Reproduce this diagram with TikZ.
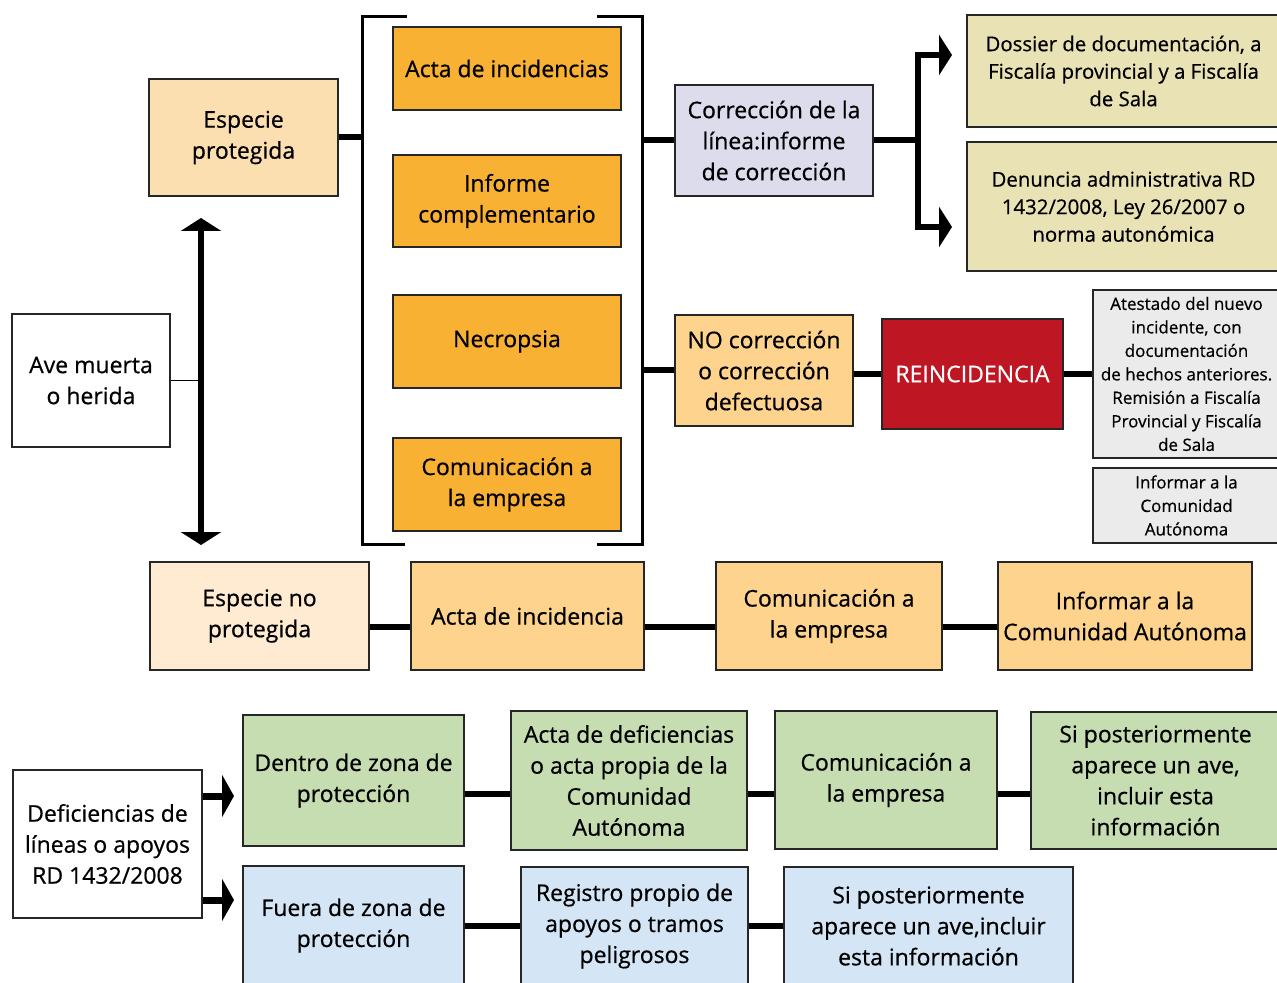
\documentclass[tikz,border=0pt]{standalone}
\usepackage{fontspec}
\setmainfont{Open Sans}[FakeBold=0.6]
\usetikzlibrary{arrows.meta}
\definecolor{espcol}{HTML}{FCDFB0}
\definecolor{naranja}{HTML}{F8B133}
\definecolor{lavanda}{HTML}{DCDCEC}
\definecolor{caqui}{HTML}{E9E2B4}
\definecolor{melocoton}{HTML}{FDD38D}
\definecolor{rojo}{HTML}{BE1622}
\definecolor{gris}{HTML}{EBEBEB}
\definecolor{crema}{HTML}{FEEBD1}
\definecolor{verde}{HTML}{C5DDB0}
\definecolor{azul}{HTML}{D4E5F5}

\begin{document}
\begin{tikzpicture}[
x=0.5pt, y=-0.5pt,
cell/.style={
	draw=black!85, line width=0.7pt,
	align=center, inner sep=1pt, text=black,
	font=\fontsize{11.5}{15.5}\selectfont
},
mid/.style={font=\fontsize{10.2}{13.75}\selectfont},
small/.style={font=\fontsize{8.5}{11.75}\selectfont},
bar/.style={line width=3pt},
bigarrow/.style={line width=3pt, -{Triangle[width=20pt,length=6.5pt]}}
]
\useasboundingbox (0,0) rectangle (1277,983);
\node[cell, fill=espcol, minimum width=94.5pt, minimum height=58.5pt] (espprot) at (243.5,137.5) {Especie\\protegida};
\node[cell, fill=white, minimum width=79pt, minimum height=66.5pt] (ave) at (91,380.5) {Ave muerta\\o herida};
\node[cell, fill=naranja, minimum width=114pt, minimum height=41.5pt] (acta1) at (507,68.5) {Acta de incidencias};
\node[cell, fill=naranja, minimum width=114pt, minimum height=46pt] (informe) at (507,201) {Informe\\complementario};
\node[cell, fill=naranja, minimum width=114pt, minimum height=46.5pt] (necro) at (507,341.5) {Necropsia};
\node[cell, fill=naranja, minimum width=114pt, minimum height=46.5pt] (comun1) at (507,484.5) {Comunicación a\\la empresa};
\node[cell, fill=lavanda, minimum width=99pt, minimum height=55.5pt] (corr) at (774,140.5) {Corrección de la\\línea:informe\\de corrección};
\node[cell, mid, fill=caqui, minimum width=156.5pt, minimum height=56pt] (dossier) at (1123.5,71) {Dossier de documentación, a\\Fiscalía provincial y a Fiscalía\\de Sala};
\node[cell, mid, fill=caqui, minimum width=156.5pt, minimum height=64.5pt] (denuncia) at (1123.5,206.5) {Denuncia administrativa RD\\1432/2008, Ley 26/2007 o\\norma autonómica};
\node[cell, fill=melocoton, minimum width=89pt, minimum height=55.5pt] (nocorr) at (764,370.5) {NO corrección\\o corrección\\defectuosa};
\node[cell, fill=rojo, text=white, minimum width=90.5pt, minimum height=55pt] (reinc) at (972.5,374) {REINCIDENCIA};
\node[cell, small, fill=gris, minimum width=93.5pt, minimum height=84pt] (atestado) at (1186.5,374) {Atestado del nuevo\\incidente, con\\documentación\\de hechos anteriores.\\Remisión a Fiscalía\\Provincial y Fiscalía\\de Sala};
\node[cell, small, fill=gris, minimum width=93.5pt, minimum height=37.5pt] (infca1) at (1186.5,505.5) {Informar a la\\Comunidad\\Autónoma};

\node[cell, fill=crema, minimum width=109.5pt, minimum height=54pt] (espno) at (259.5,616) {Especie no\\protegida};
\node[cell, fill=melocoton, minimum width=116.5pt, minimum height=54pt] (acta2) at (527.5,616) {Acta de incidencia};
\node[cell, fill=melocoton, minimum width=113pt, minimum height=54pt] (comun2) at (829,616) {Comunicación a\\la empresa};
\node[cell, fill=melocoton, minimum width=127pt, minimum height=54pt] (infca2) at (1125,616) {Informar a la\\Comunidad Autónoma};

\node[cell, fill=white, minimum width=94.5pt, minimum height=74pt] (defic) at (107.5,844) {Deficiencias de\\líneas o apoyos\\RD 1432/2008};
\node[cell, fill=verde, minimum width=110.5pt, minimum height=65.5pt] (dentro) at (353.5,780.5) {Dentro de zona de\\protección};
\node[cell, fill=verde, minimum width=118pt, minimum height=69.5pt] (actadef) at (629,780.5) {Acta de deficiencias\\o acta propia de la\\Comunidad\\Autónoma};
\node[cell, fill=verde, minimum width=111pt, minimum height=69pt] (comun3) at (886,780) {Comunicación a\\la empresa};
\node[cell, fill=verde, minimum width=124.5pt, minimum height=68.5pt] (sipost1) at (1155.5,780.5) {Si posteriormente\\aparece un ave,\\incluir esta\\información};
\node[cell, fill=azul, minimum width=110.5pt, minimum height=59.5pt] (fuera) at (353.5,925.5) {Fuera de zona de\\protección};
\node[cell, fill=azul, minimum width=113.5pt, minimum height=59pt] (registro) at (634.5,926) {Registro propio de\\apoyos o tramos\\peligrosos};
\node[cell, fill=azul, minimum width=144.5pt, minimum height=59pt] (sipost2) at (928.5,926) {Si posteriormente\\aparece un ave,incluir\\esta información};

\coordinate (brTL) at (362,17);
\coordinate (brBR) at (642,544);
\draw[line width=1.5pt] (407,17) -- (brTL) -- (362,544) -- (405,544);
\draw[line width=1.5pt] (597,17) -- (642,17) -- (brBR) -- (597,544);

\coordinate (vtop) at (201,218);
\coordinate (vbot) at (201,545);
\draw[line width=3pt, {Triangle[width=20pt,length=6.5pt]}-{Triangle[width=20pt,length=6.5pt]}] (vtop) -- (vbot);
\draw[line width=0.6pt] (ave.east) -- (ave.east -| vtop);

\draw[bar] (espprot.east) -- (espprot.east -| brTL);
\draw[bar] (corr.west -| brBR) -- (corr.west);
\draw[bar] (nocorr.west -| brBR) -- (nocorr.west);
\draw[bar] (reinc.west -| nocorr.east) -- (reinc.west);
\draw[bar] (reinc.east) -- (atestado.west);

\coordinate (fork) at (918,140.5);
\coordinate (dossierin) at (952,55);
\coordinate (denunciain) at (952,227);
\draw[bar] (corr.east) -- (corr.east -| fork);
\draw[bigarrow] (corr.east -| fork) |- (dossierin);
\draw[bigarrow] (corr.east -| fork) |- (denunciain);

\coordinate (lvlB) at (0,627);
\foreach \a/\b in {espno/acta2, acta2/comun2, comun2/infca2}
	\draw[bar] (\a.east |- lvlB) -- (\b.west |- lvlB);

\coordinate (lvlC) at (0,794);
\foreach \a/\b in {dentro/actadef, actadef/comun3, comun3/sipost1}
	\draw[bar] (\a.east |- lvlC) -- (\b.west |- lvlC);
\foreach \a/\b in {fuera/registro, registro/sipost2}
	\draw[bar] (\a.east) -- (\b.west |- \a.east);

\coordinate (dentroin) at (234,796);
\coordinate (fuerain) at (234,900);
\draw[line width=3.5pt, -{Triangle[width=21pt,length=6pt]}] (defic.east |- dentroin) -- (dentroin);
\draw[line width=3.5pt, -{Triangle[width=21pt,length=6pt]}] (defic.east |- fuerain) -- (fuerain);
\end{tikzpicture}
\end{document}
